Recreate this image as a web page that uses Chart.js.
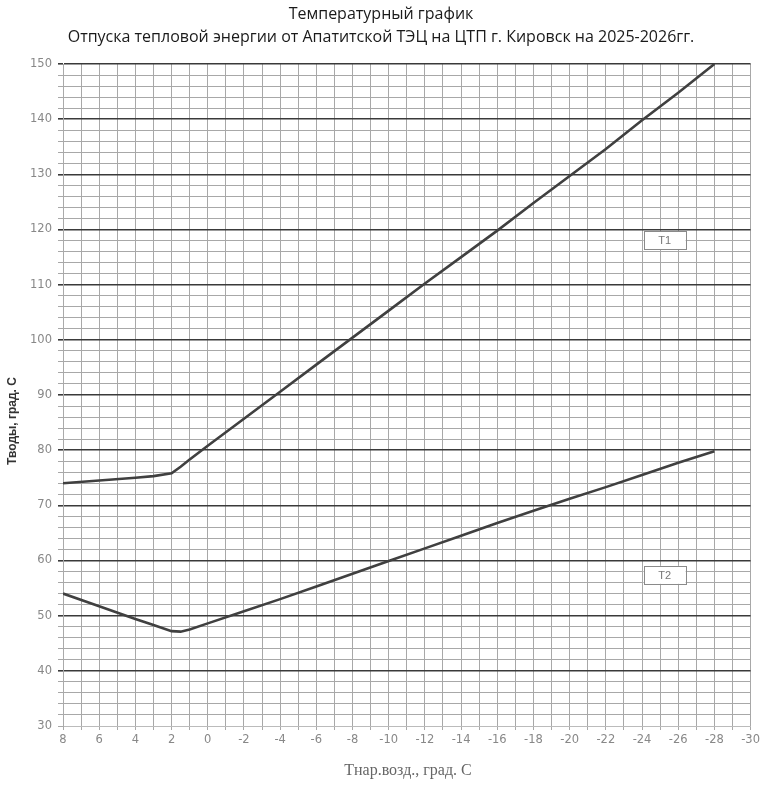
<!DOCTYPE html>
<html lang="ru">
<head>
<meta charset="utf-8">
<script src="https://cdn.jsdelivr.net/npm/chart.js@4"></script>
<style>
  html, body { margin: 0; padding: 0; background: #fff; }
  #wrap { width: 763px; height: 787px; position: relative; }
</style>
</head>
<body>
<div id="wrap"><canvas id="chart" width="763" height="787"></canvas></div>
<script>
// Outdoor air temperature, °C (x axis, decreasing to the right)
const airTemps = [8, 6, 4, 3, 2, 1.5, 1, 0, -2, -4, -6, -8, -10, -12, -14, -16, -18, -20, -22, -24, -26, -28];
// Supply water temperature T1, °C
const supplyT1 = [74.0, 74.5, 75.0, 75.3, 75.8, 77.0, 78.3, 80.8, 85.7, 90.6, 95.5, 100.4, 105.3, 110.2, 115.0, 119.8, 124.8, 129.7, 134.6, 139.8, 144.8, 150.0];
// Return water temperature T2, °C
const returnT2 = [54.0, 51.7, 49.4, 48.3, 47.2, 47.1, 47.5, 48.6, 50.8, 53.0, 55.3, 57.6, 59.9, 62.2, 64.5, 66.8, 69.0, 71.2, 73.3, 75.5, 77.7, 79.8];
const seriesNames = ['T1', 'T2'];
const titleLines = ['Температурный график', 'Отпуска тепловой энергии от Апатитской ТЭЦ на ЦТП г. Кировск на 2025-2026гг.'];
const xTitle = 'Тнар.возд., град. С';
const yTitle = 'Тводы, град. С';

const toPoints = (ys) => airTemps.map((x, i) => ({ x: x, y: ys[i] }));

// Boxed series labels placed inside the plot
const seriesTags = {
  id: 'seriesTags',
  afterDatasetsDraw(chart) {
    const { ctx, scales } = chart;
    const spots = [[-25.25, 118.1], [-25.25, 57.4]];
    ctx.save();
    ctx.font = '11px "Liberation Sans", Arial, sans-serif';
    ctx.textAlign = 'center';
    ctx.textBaseline = 'middle';
    seriesNames.forEach((name, i) => {
      const cx = scales.x.getPixelForValue(spots[i][0]);
      const cy = scales.y.getPixelForValue(spots[i][1]);
      const w = 42, h = 18;
      ctx.fillStyle = '#fff';
      ctx.fillRect(cx - w / 2, cy - h / 2, w, h);
      ctx.strokeStyle = '#8a8a8a';
      ctx.lineWidth = 1;
      ctx.strokeRect(Math.round(cx - w / 2) + 0.5, Math.round(cy - h / 2) + 0.5, w, h);
      ctx.fillStyle = '#777';
      ctx.fillText(name, cx, cy + 1);
    });
    ctx.restore();
  }
};

// Heading lines and axis captions
const captions = {
  id: 'captions',
  afterDraw(chart) {
    const { ctx } = chart;
    ctx.save();
    ctx.fillStyle = '#1a1a1a';
    ctx.textAlign = 'center';
    ctx.textBaseline = 'middle';
    ctx.font = '16px "Open Sans", sans-serif';
    ctx.fillText(titleLines[0], 381, 14);
    ctx.fillText(titleLines[1], 381, 37);

    ctx.fillStyle = '#666';
    ctx.font = '16px "Liberation Serif", "Times New Roman", serif';
    ctx.fillText(xTitle, 408, 771);

    ctx.fillStyle = '#333';
    ctx.font = 'bold 12px "Liberation Sans", Arial, sans-serif';
    ctx.translate(13, 421);
    ctx.rotate(-Math.PI / 2);
    ctx.fillText(yTitle, 0, 0);
    ctx.restore();
  }
};

const lineStyle = {
  borderColor: '#404040',
  borderWidth: 2.6,
  pointRadius: 0,
  tension: 0,
  fill: false
};

const tickFont = { family: '"DejaVu Sans", sans-serif', size: 11.5 };
const isMajor = (c) => c.tick && c.tick.value % 10 === 0 && c.tick.value !== 30;

new Chart(document.getElementById('chart'), {
  type: 'line',
  data: {
    datasets: [
      Object.assign({ label: seriesNames[0], data: toPoints(supplyT1) }, lineStyle),
      Object.assign({ label: seriesNames[1], data: toPoints(returnT2) }, lineStyle)
    ]
  },
  options: {
    responsive: false,
    animation: false,
    layout: { padding: { left: 0, top: 64, right: 11, bottom: 0 } },
    plugins: {
      legend: { display: false },
      title: { display: false },
      tooltip: { enabled: false }
    },
    scales: {
      x: {
        type: 'linear',
        reverse: true,
        min: -30,
        max: 8,
        afterFit(scale) { scale.height = 61; },
        ticks: {
          stepSize: 1,
          autoSkip: false,
          maxRotation: 0,
          padding: 3,
          color: '#888',
          font: tickFont,
          callback: (v) => (v % 2 === 0 ? String(v) : '')
        },
        grid: {
          color: '#a8a8a8',
          lineWidth: 1,
          tickLength: 4
        },
        border: { color: '#bbb', width: 1 }
      },
      y: {
        type: 'linear',
        min: 30,
        max: 150,
        afterFit(scale) { scale.width = 63; },
        ticks: {
          stepSize: 2,
          autoSkip: false,
          padding: 6,
          color: '#888',
          font: tickFont,
          callback: (v) => (v % 10 === 0 ? String(v) : '')
        },
        grid: {
          color: (c) => (isMajor(c) ? '#3a3a3a' : '#a8a8a8'),
          lineWidth: (c) => (isMajor(c) ? 1.6 : 1),
          tickLength: 5
        },
        border: { color: '#aaa', width: 1 }
      }
    }
  },
  plugins: [seriesTags, captions]
});
</script>
</body>
</html>
